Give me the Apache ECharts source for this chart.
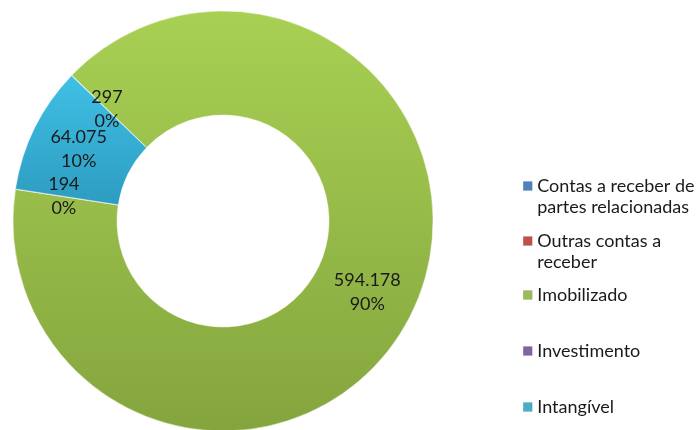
<!DOCTYPE html>
<html>
<head>
<meta charset="utf-8">
<script src="https://cdn.jsdelivr.net/npm/echarts@6/dist/echarts.min.js"></script>
<style>
html,body{margin:0;padding:0;background:#fff;}
#chart{width:699px;height:430px;}
</style>
</head>
<body>
<div id="chart"></div>
<script>
// Data
var categories = ['Contas a receber de partes relacionadas', 'Outras contas a receber', 'Imobilizado', 'Investimento', 'Intangível'];
var legendLines = [['Contas a receber de', 'partes relacionadas'], ['Outras contas a', 'receber'], ['Imobilizado'], ['Investimento'], ['Intangível']];
var values = [297, 0, 594178, 194, 64075];
var baseColors = ['#4F81BD', '#C0504D', '#9BBB59', '#8064A2', '#4BACC6'];
var gradTop = ['#5b8fd0', '#d25a56', '#a8d053', '#8d6fb3', '#40c0e6'];
var gradBottom = ['#3f6ca5', '#a8413e', '#84a53e', '#6a5090', '#2d9cc0'];

var FONT = 'Lato';
var FS = 18;

function fmtNum(v) {
  return String(v).replace(/\B(?=(\d{3})+(?!\d))/g, '.');
}

var seriesData = categories.map(function (c, i) {
  return {
    name: c,
    value: values[i],
    itemStyle: {
      color: new echarts.graphic.LinearGradient(0, 0, 0, 1, [
        {offset: 0, color: gradTop[i]},
        {offset: 1, color: gradBottom[i]}
      ]),
      borderColor: 'rgba(255,255,255,0.45)',
      borderWidth: 1
    },
    label: {show: values[i] !== 0}
  };
});

var legendIconCenters = [186, 241, 295, 351, 407];
var lh = 21;
var legends = categories.map(function (c, i) {
  var lines = legendLines[i];
  var multi = lines.length > 1;
  var blockH = multi ? lh * 3 : lh;
  return {
    orient: 'vertical',
    left: 523,
    top: legendIconCenters[i] - blockH / 2,
    padding: 0,
    itemWidth: 9,
    itemHeight: 9,
    itemGap: 0,
    icon: 'rect',
    data: [{name: c, itemStyle: {color: baseColors[i], borderColor: 'rgba(0,0,0,0.15)', borderWidth: 0.5}}],
    selectedMode: false,
    formatter: function () {
      return multi ? (' \n' + lines.join('\n')) : lines[0];
    },
    textStyle: {
      fontFamily: FONT,
      fontSize: FS,
      lineHeight: lh,
      color: '#1a1a1a'
    }
  };
});

var chart = echarts.init(document.getElementById('chart'), null, {renderer: 'canvas'});
chart.setOption({
  animation: false,
  backgroundColor: '#ffffff',
  legend: legends,
  series: [{
    type: 'pie',
    center: [223, 221],
    radius: [106, 210],
    startAngle: 136.2,
    clockwise: true,
    avoidLabelOverlap: false,
    minShowLabelAngle: 0,
    labelLayout: {hideOverlap: false},
    emphasis: {disabled: true},
    labelLine: {show: false},
    label: {
      position: 'inside',
      fontFamily: FONT,
      fontSize: FS,
      lineHeight: 24,
      color: '#1a1a1a',
      formatter: function (p) {
        return fmtNum(p.value) + '\n' + Math.round(p.percent) + '%';
      }
    },
    data: seriesData
  }]
});
</script>
</body>
</html>
